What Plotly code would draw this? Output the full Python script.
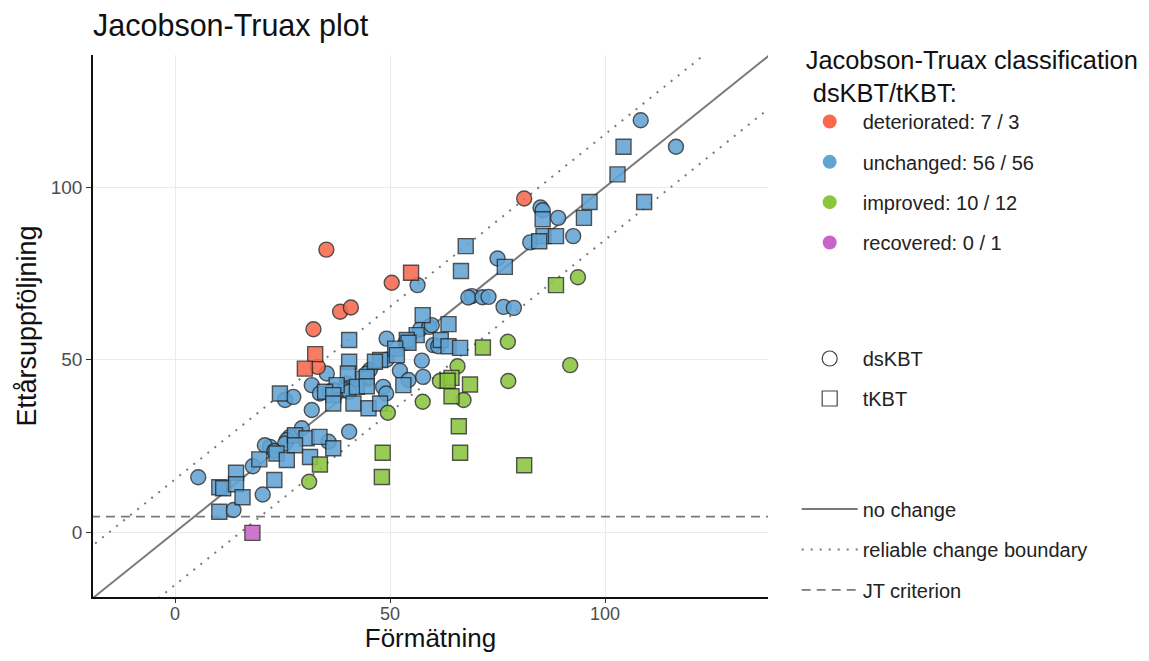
import plotly.graph_objects as go

# ---------------- data ----------------
# deteriorated
det_ds_x = [35.2, 50.4, 38.4, 40.9, 32.2, 81.2, 33.2]
det_ds_y = [81.9, 72.3, 63.9, 65.1, 58.8, 96.7, 47.9]
det_t_x = [54.9, 32.6, 30.2]
det_t_y = [75.2, 51.6, 47.4]

# unchanged
unc_ds_x = [108.3, 116.5, 85.0, 85.5, 89.1, 92.6, 82.6, 75.0, 69.0, 68.2, 71.5, 72.9, 76.4, 78.8,
            56.4, 57.0, 59.1, 59.7, 49.2, 53.6, 60.1, 61.2, 49.2, 57.4, 52.3, 54.3, 57.7, 48.4,
            49.1, 45.3, 44.6, 35.3, 39.9, 39.5, 31.8, 33.7, 36.0, 36.8, 39.5, 40.5, 31.8, 25.6,
            27.5, 40.5, 29.5, 26.7, 26.0, 25.6, 35.7, 22.1, 5.4, 13.6, 20.4, 18.1, 20.9, 23.1]
unc_ds_y = [119.4, 111.7, 94.1, 93.3, 91.1, 85.8, 84.0, 79.3, 68.4, 68.0, 68.1, 68.2, 65.3, 65.0,
            71.6, 58.8, 59.5, 60.0, 56.1, 54.9, 54.2, 53.9, 50.0, 49.7, 46.8, 44.1, 45.0, 42.1,
            40.2, 47.0, 46.0, 46.0, 43.1, 42.1, 42.6, 40.2, 40.7, 41.2, 41.2, 40.7, 35.4, 38.3,
            39.2, 29.1, 30.1, 27.6, 26.7, 25.7, 26.2, 24.7, 15.9, 6.4, 10.9, 19.1, 25.2, 23.5]
unc_t_x = [104.3, 102.9, 109.1, 96.4, 85.5, 95.1, 85.7, 84.7, 88.6, 76.7, 67.6, 66.5, 57.6, 63.6,
           56.2, 53.9, 54.3, 51.2, 51.6, 61.8, 63.6, 66.3, 53.1, 47.7, 46.5, 40.5, 43.8, 44.6,
           40.2, 37.6, 42.3, 44.6, 34.9, 36.8, 36.8, 41.5, 45.0, 47.7, 24.4, 27.9, 30.6, 33.6,
           36.8, 23.6, 31.4, 10.3, 11.2, 14.2, 14.2, 15.7, 10.3, 23.1, 19.6, 26.0, 27.9, 40.5]
unc_t_y = [111.7, 103.7, 95.7, 95.7, 90.7, 91.1, 85.8, 84.3, 85.8, 76.9, 82.9, 75.7, 62.9, 60.3,
           57.1, 55.7, 54.9, 53.2, 51.3, 55.7, 53.9, 53.4, 42.6, 49.9, 49.4, 49.4, 44.5, 45.0,
           46.0, 42.6, 42.1, 42.3, 40.7, 39.7, 37.3, 37.3, 35.9, 37.3, 40.2, 28.1, 27.2, 27.6,
           24.3, 22.8, 21.8, 13.0, 12.7, 17.2, 13.9, 10.1, 5.9, 15.1, 21.1, 20.9, 25.2, 55.7]

# improved
imp_ds_x = [93.7, 91.9, 77.4, 77.5, 65.7, 61.6, 67.1, 57.6, 49.5, 31.2]
imp_ds_y = [73.9, 48.4, 55.2, 43.8, 48.1, 43.8, 38.3, 37.8, 34.6, 14.6]
imp_t_x = [88.6, 81.2, 71.6, 64.3, 63.4, 68.6, 64.3, 66.0, 48.3, 66.3, 33.7, 48.1]
imp_t_y = [71.6, 19.4, 53.5, 44.7, 43.9, 42.8, 39.4, 30.7, 23.0, 23.0, 19.6, 16.0]

# recovered
rec_t_x = [18.0]
rec_t_y = [-0.2]

# reference lines
rc_bound = 15.3      # reliable change boundary
jt_crit = 4.5        # JT criterion
line_span = [-30, 150]

class_labels = ["deteriorated: 7 / 3", "unchanged: 56 / 56", "improved: 10 / 12", "recovered: 0 / 1"]
shape_labels = ["dsKBT", "tKBT"]
line_labels = ["no change", "reliable change boundary", "JT criterion"]

# ---------------- style ----------------
col = {"det": "#F8694E", "unc": "#62A4D4", "imp": "#8CC63F", "rec": "#C863C8"}
FONT = "Liberation Sans, Arial, sans-serif"
MS = 15
edge = dict(color="rgba(40,40,40,0.9)", width=1.4)
grey = "#7a7a7a"

fig = go.Figure()

# lines
fig.add_trace(go.Scatter(x=line_span, y=line_span, mode="lines",
                         line=dict(color=grey, width=2), name=line_labels[0],
                         legend="legend3", legendgroup="l0", hoverinfo="skip"))
fig.add_trace(go.Scatter(x=line_span, y=[v + rc_bound for v in line_span], mode="lines",
                         line=dict(color=grey, width=2, dash="2px,7px"), name=line_labels[1],
                         legend="legend3", legendgroup="l1", hoverinfo="skip"))
fig.add_trace(go.Scatter(x=line_span, y=[v - rc_bound for v in line_span], mode="lines",
                         line=dict(color=grey, width=2, dash="2px,7px"), showlegend=False,
                         hoverinfo="skip"))
fig.add_trace(go.Scatter(x=line_span, y=[jt_crit, jt_crit], mode="lines",
                         line=dict(color=grey, width=1.6, dash="9px,6px"), name=line_labels[2],
                         legend="legend3", legendgroup="l2", hoverinfo="skip"))

# points
groups = [
    ("unc", unc_ds_x, unc_ds_y, "circle"), ("unc", unc_t_x, unc_t_y, "square"),
    ("imp", imp_ds_x, imp_ds_y, "circle"), ("imp", imp_t_x, imp_t_y, "square"),
    ("det", det_ds_x, det_ds_y, "circle"), ("det", det_t_x, det_t_y, "square"),
    ("rec", rec_t_x, rec_t_y, "square"),
]
for key, xs, ys, sym in groups:
    fig.add_trace(go.Scatter(x=xs, y=ys, mode="markers", showlegend=False,
                             marker=dict(symbol=sym, size=MS, color=col[key], opacity=0.88,
                                         line=edge)))

# legend: classification (colours)
for key, lab in zip(["det", "unc", "imp", "rec"], class_labels):
    fig.add_trace(go.Scatter(x=[None], y=[None], mode="markers", name=lab, legend="legend",
                             legendgroup=lab,
                             marker=dict(symbol="circle", size=14, color=col[key])))
# legend: shapes
for sym, lab in zip(["circle-open", "square-open"], shape_labels):
    fig.add_trace(go.Scatter(x=[None], y=[None], mode="markers", name=lab, legend="legend2",
                             legendgroup=lab,
                             marker=dict(symbol=sym, size=15, color="#444444",
                                         line=dict(width=1.2))))

W, H = 1133, 645
L, T = 85, 47
PR, PB = 760, 589
LEGX = 1.0425
leg_font = dict(size=20, color="#222222")
fig.update_layout(
    width=W, height=H,
    margin=dict(l=L, r=W - PR, t=T, b=H - PB, autoexpand=False),
    paper_bgcolor="white", plot_bgcolor="white",
    font=dict(family=FONT, size=19, color="#222222"),
    title=dict(text="Jacobson-Truax plot", x=0, xref="paper", xanchor="left",
               y=1 - 17 / H, yanchor="middle", font=dict(size=30.5, color="#111111")),
    showlegend=True,
    legend=dict(title=dict(text="&nbsp;Jacobson-Truax classification<br>&nbsp;&nbsp;dsKBT/tKBT:",
                           font=dict(size=25.4, color="#111111")),
                x=LEGX, xanchor="left", y=1.035, yanchor="top",
                font=leg_font, tracegroupgap=11.3, itemwidth=56,
                bgcolor="rgba(0,0,0,0)"),
    legend2=dict(x=LEGX, xanchor="left", y=0.476, yanchor="top",
                 font=leg_font, tracegroupgap=11, itemwidth=56,
                 bgcolor="rgba(0,0,0,0)"),
    legend3=dict(x=LEGX, xanchor="left", y=0.1985, yanchor="top",
                 font=leg_font, tracegroupgap=11.5, itemwidth=56,
                 bgcolor="rgba(0,0,0,0)"),
)

axis_common = dict(showgrid=True, gridcolor="#ebebeb", gridwidth=1.3, zeroline=False,
                   showline=True, linecolor="#111111", linewidth=1.5,
                   ticks="outside", tickcolor="#333333", tickwidth=1,
                   tickvals=[0, 50, 100])
fig.update_xaxes(range=[-19.07, 137.9], ticklen=4, ticklabelstandoff=-4,
                 tickfont=dict(size=18, color="#4d4d4d"),
                 title=dict(text="Förmätning", font=dict(size=26, color="#111111"), standoff=10),
                 **axis_common)
fig.update_yaxes(range=[-18.8, 138.3], ticklen=5,
                 tickfont=dict(size=19, color="#4d4d4d"),
                 title=dict(text="Ettårsuppföljning", font=dict(size=27, color="#111111"), standoff=6),
                 **axis_common)

fig.write_html("out.html")
